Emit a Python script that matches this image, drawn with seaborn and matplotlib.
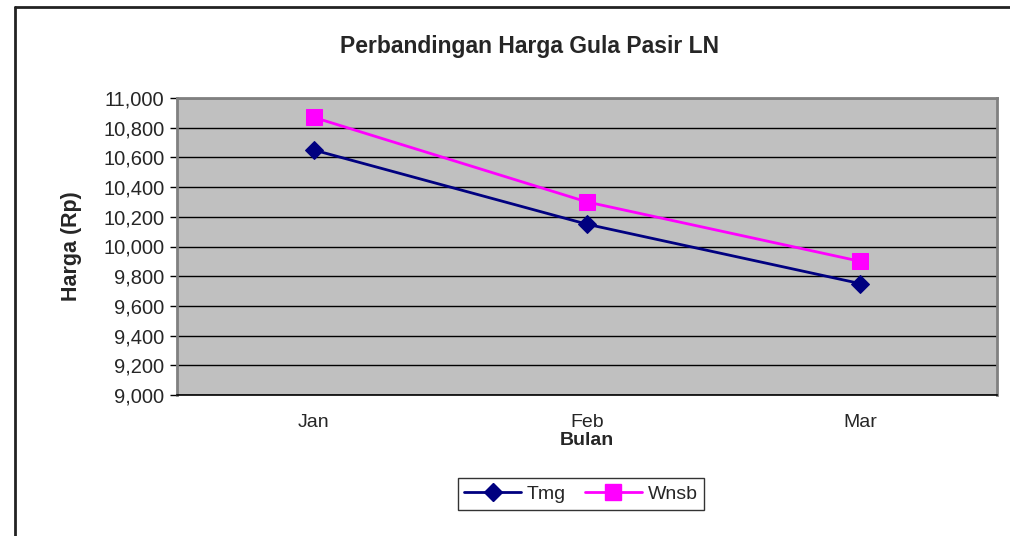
import numpy as np
import pandas as pd
import seaborn as sns
import matplotlib
matplotlib.use("Agg")
import matplotlib.pyplot as plt
from matplotlib.lines import Line2D
from matplotlib.ticker import FuncFormatter

bulan = ["Jan", "Feb", "Mar"]
tmg = [10650, 10150, 9750]
wnsb = [10870, 10300, 9900]

df = pd.DataFrame({"Bulan": bulan * 2,
                   "Harga": tmg + wnsb,
                   "Seri": ["Tmg"] * 3 + ["Wnsb"] * 3})

sns.set_style("white")
plt.rcParams['font.family'] = ['Liberation Sans', 'DejaVu Sans']

fig = plt.figure(figsize=[10.1, 5.36], dpi=100)
ax = fig.add_axes([177 / 1010, 1 - 395 / 536, 820 / 1010, 297 / 536])
ax.set_facecolor("#c0c0c0")

colors = {"Tmg": "#000080", "Wnsb": "#ff00ff"}
markers = {"Tmg": "D", "Wnsb": "s"}
sizes = {"Tmg": 9, "Wnsb": 11}
for seri in ["Tmg", "Wnsb"]:
    sub = df[df["Seri"] == seri]
    x = [bulan.index(b) for b in sub["Bulan"]]
    sns.lineplot(x=x, y=sub["Harga"].values, ax=ax, color=colors[seri],
                 lw=2, marker=markers[seri], markersize=sizes[seri],
                 markeredgecolor=colors[seri], label=seri, legend=False,
                 zorder=3)

ax.set_xlim(-0.5, 2.5)
ax.set_ylim(9000, 11000)
ax.set_yticks(np.arange(9000, 11001, 200))
ax.yaxis.set_major_formatter(FuncFormatter(lambda v, p: "{:,.0f}".format(v)))
ax.set_xticks([0, 1, 2])
ax.set_xticklabels(bulan)
ax.set_xticks([-0.5, 0.5, 1.5, 2.5], minor=True)
ax.tick_params(axis="x", which="major", length=0, pad=14, labelsize=14)
ax.tick_params(axis="x", which="minor", length=6, width=1, color="#555555",
               direction="out")
ax.tick_params(axis="y", length=5, width=1, color="black", direction="out",
               labelsize=14.5, pad=4, left=True)
ax.grid(axis="y", color="black", lw=1, zorder=1)
ax.set_axisbelow(True)
for side in ["left", "top", "right"]:
    ax.spines[side].set_color("#808080")
    ax.spines[side].set_linewidth(2)
    ax.spines[side].set_visible(True)
ax.spines["bottom"].set_color("black")
ax.spines["bottom"].set_linewidth(1.2)

ax.set_xlabel("Bulan", fontsize=14, fontweight="bold", labelpad=0.5)
ax.set_ylabel("Harga (Rp)", fontsize=15.5, fontweight="bold", labelpad=15)
fig.text(0.5245, 1 - 47 / 536, "Perbandingan Harga Gula Pasir LN",
         ha="center", va="center", fontsize=16.5, fontweight="bold")

handles = [Line2D([], [], color=colors[s], lw=2, marker=markers[s],
                  markersize=sizes[s], markeredgecolor=colors[s])
           for s in ["Tmg", "Wnsb"]]
leg = fig.legend(handles, ["Tmg", "Wnsb"], loc="center",
                 bbox_to_anchor=(581 / 1010, 1 - 494 / 536), ncol=2,
                 frameon=True, fancybox=False, fontsize=14,
                 handlelength=2.9, handletextpad=0.3, columnspacing=1.0,
                 borderpad=0.35)
leg.get_frame().set_edgecolor("black")
leg.get_frame().set_linewidth(1)

# outer chart border (top and left only visible)
fig.add_artist(Line2D([15 / 1010, 15 / 1010], [0, 1 - 7 / 536],
                      transform=fig.transFigure, color="#222222", lw=2))
fig.add_artist(Line2D([15 / 1010, 1], [1 - 7 / 536, 1 - 7 / 536],
                      transform=fig.transFigure, color="#222222", lw=2))

fig.savefig("out.png", dpi=100)
